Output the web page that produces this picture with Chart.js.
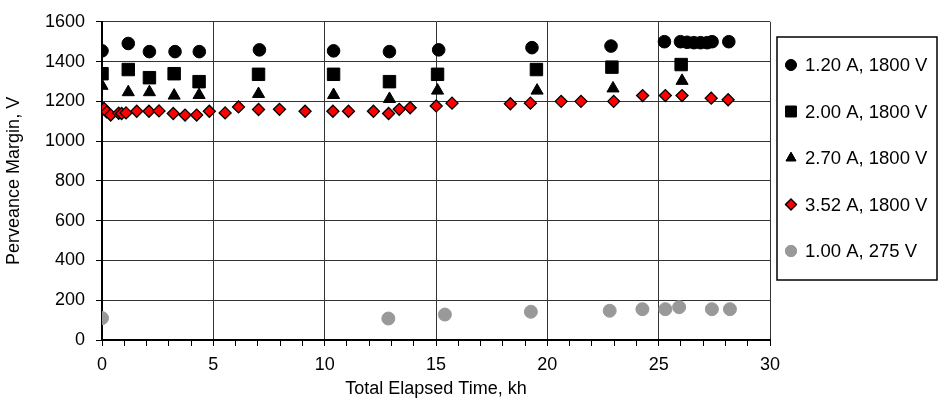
<!DOCTYPE html>
<html>
<head>
<meta charset="utf-8">
<script src="https://cdn.jsdelivr.net/npm/chart.js@4/dist/chart.umd.min.js"></script>
<style>
  html, body { margin: 0; padding: 0; background: #fff; }
  #wrap { width: 941px; height: 416px; position: relative; }
</style>
</head>
<body>
<div id="wrap"><canvas id="c" width="941" height="416"></canvas></div>
<script>
// ---- data ----
const seriesNames = ['1.20 A, 1800 V', '2.00 A, 1800 V', '2.70 A, 1800 V', '3.52 A, 1800 V', '1.00 A, 275 V'];

const s1x = [0, 1.18, 2.13, 3.28, 4.37, 7.07, 10.4, 12.91, 15.12, 19.31, 22.86, 25.26, 25.98, 26.28, 26.58, 26.88, 27.18, 27.4, 28.15];
const s1y = [1454, 1491, 1450, 1450, 1450, 1459, 1454, 1450, 1459, 1470, 1478, 1500, 1500, 1497, 1495, 1495, 1495, 1500, 1500];

const s2x = [0, 1.18, 2.13, 3.24, 4.36, 7.03, 10.4, 12.91, 15.07, 19.51, 22.9, 26.01];
const s2y = [1339, 1360, 1319, 1339, 1299, 1336, 1336, 1299, 1336, 1360, 1372, 1385];

const s3x = [0, 1.18, 2.13, 3.24, 4.36, 7.03, 10.4, 12.91, 15.07, 19.54, 22.95, 26.05];
const s3y = [1278, 1246, 1246, 1229, 1232, 1237, 1232, 1212, 1254, 1254, 1265, 1303];

const s4x = [0.09, 0.21, 0.39, 0.75, 0.88, 1.08, 1.56, 2.11, 2.56, 3.2, 3.73, 4.25, 4.82, 5.53, 6.13, 7.03, 7.97, 9.12, 10.37, 11.07, 12.19, 12.87, 13.35, 13.84, 15.01, 15.72, 18.34, 19.24, 20.62, 21.51, 22.98, 24.28, 25.3, 26.05, 27.36, 28.12];
const s4y = [1164, 1147, 1131, 1140, 1139, 1142, 1150, 1150, 1152, 1139, 1131, 1131, 1150, 1142, 1172, 1159, 1160, 1150, 1150, 1150, 1150, 1139, 1160, 1168, 1177, 1191, 1188, 1191, 1200, 1200, 1200, 1229, 1229, 1229, 1216, 1208];

const s5x = [0, 12.86, 15.4, 19.26, 22.8, 24.27, 25.3, 25.92, 27.39, 28.2];
const s5y = [110, 108, 128, 142, 147, 155, 155, 165, 155, 155];

const xTickStep = 5;
const yTickStep = 200;

function pts(xs, ys) { return xs.map((x, i) => ({ x: x, y: ys[i] })); }

const FONT = "'Liberation Sans', Arial, sans-serif";

const datasets = [
  { label: seriesNames[0], data: pts(s1x, s1y), pointStyle: 'circle', pointRadius: 6.3, backgroundColor: '#000', borderColor: '#000', borderWidth: 1, legendScale: 0.85 },
  { label: seriesNames[1], data: pts(s2x, s2y), pointStyle: 'rect', pointRadius: 8.8, backgroundColor: '#000', borderColor: '#000', borderWidth: 1, legendScale: 0.85 },
  { label: seriesNames[2], data: pts(s3x, s3y), pointStyle: 'triangle', pointRadius: 7, backgroundColor: '#000', borderColor: '#000', borderWidth: 1, legendScale: 0.8 },
  { label: seriesNames[3], data: pts(s4x, s4y), pointStyle: 'rectRot', pointRadius: 6, backgroundColor: '#ff0000', borderColor: '#000', borderWidth: 1.3, legendScale: 0.9 },
  { label: seriesNames[4], data: pts(s5x, s5y), pointStyle: 'circle', pointRadius: 6.5, backgroundColor: '#999999', borderColor: '#999999', borderWidth: 1, legendScale: 0.85 }
].map(d => Object.assign(d, { showLine: false, pointHoverRadius: d.pointRadius }));

const legendBox = {
  id: 'legendBox',
  afterDraw(chart) {
    const ctx = chart.ctx;
    const left = 777, top = 37, right = 937, bottom = 280;
    ctx.save();
    ctx.strokeStyle = '#000';
    ctx.lineWidth = 1.5;
    ctx.strokeRect(left, top, right - left, bottom - top);
    ctx.font = '18.5px ' + FONT;
    ctx.textBaseline = 'middle';
    ctx.textAlign = 'left';
    chart.data.datasets.forEach((ds, i) => {
      const y = 65 + i * 46.5;
      ctx.fillStyle = ds.backgroundColor;
      ctx.strokeStyle = ds.borderColor;
      ctx.lineWidth = ds.borderWidth;
      Chart.helpers.drawPoint(ctx, { pointStyle: ds.pointStyle, radius: ds.pointRadius * ds.legendScale, borderWidth: ds.borderWidth, rotation: 0 }, 791, y);
      ctx.fill();
      ctx.stroke();
      ctx.fillStyle = '#000';
      ctx.fillText(ds.label, 805, y + 1);
    });
    ctx.restore();
  }
};

new Chart(document.getElementById('c'), {
  type: 'scatter',
  data: { datasets: datasets },
  options: {
    responsive: false,
    animation: false,
    events: [],
    layout: { padding: { top: 14, right: 171, left: 0, bottom: 0 } },
    plugins: { legend: { display: false }, tooltip: { enabled: false } },
    scales: {
      x: {
        type: 'linear', min: 0, max: 30,
        afterFit(scale) { scale.height = 76; },
        ticks: {
          stepSize: 1, autoSkip: false, maxRotation: 0, padding: 8,
          color: '#000', font: { family: FONT, size: 18 },
          callback: v => (v % xTickStep === 0 ? String(v) : '')
        },
        grid: {
          color: c => (c.tick && c.tick.value % xTickStep === 0 ? '#333' : 'rgba(0,0,0,0)'),
          tickColor: '#000', tickLength: 6, lineWidth: 1
        },
        border: { display: true, color: '#000', width: 2 },
        title: { display: true, text: 'Total Elapsed Time, kh', color: '#000', font: { family: FONT, size: 18 }, padding: { top: 0, bottom: 16 } }
      },
      y: {
        min: 0, max: 1600,
        afterFit(scale) { scale.width = 102; },
        ticks: { stepSize: yTickStep, padding: 11, color: '#000', font: { family: FONT, size: 18 }, callback: v => String(v) },
        grid: { color: '#333', tickColor: '#000', tickLength: 6, lineWidth: 1 },
        border: { display: true, color: '#000', width: 2 },
        title: { display: true, text: 'Perveance Margin, V', color: '#000', font: { family: FONT, size: 18 }, padding: { top: 3, bottom: 0 } }
      }
    }
  },
  plugins: [legendBox]
});
</script>
</body>
</html>
